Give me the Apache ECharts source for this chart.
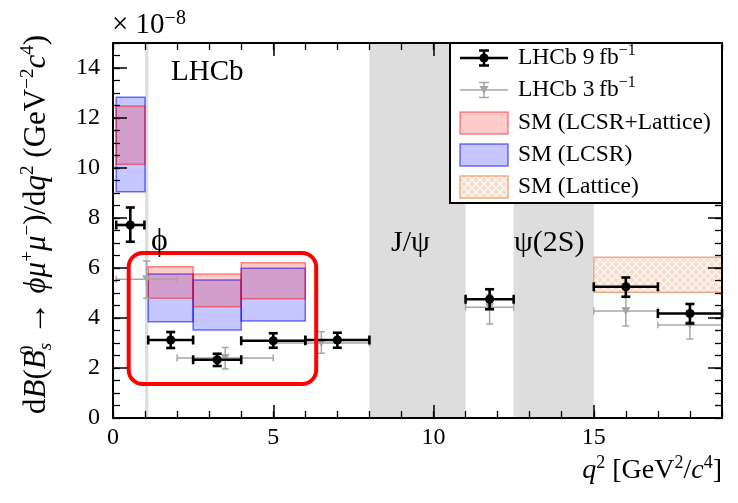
<!DOCTYPE html>
<html>
<head>
<meta charset="utf-8">
<script src="https://cdn.jsdelivr.net/npm/echarts@6/dist/echarts.min.js"></script>
<style>
  html, body { margin: 0; padding: 0; background: #ffffff; }
  #chart { width: 738px; height: 503px; }
</style>
</head>
<body>
<div id="chart"></div>
<script>
// ---------------- data (units of 1e-8 GeV^-2 c^4) ----------------
// LHCb 9 fb^-1
const run9X     = [0.54, 1.8, 3.25, 5.0, 7.0, 11.75, 16.0, 18.0];
const run9BinLo = [0.1, 1.1, 2.5, 4.0, 6.0, 11.0, 15.0, 17.0];
const run9BinHi = [0.98, 2.5, 4.0, 6.0, 8.0, 12.5, 17.0, 19.0];
const run9Y     = [7.72, 3.12, 2.33, 3.09, 3.12, 4.75, 5.25, 4.18];
const run9ErrUp = [0.70, 0.32, 0.24, 0.30, 0.29, 0.40, 0.37, 0.38];
const run9ErrDn = [0.67, 0.32, 0.25, 0.28, 0.31, 0.40, 0.40, 0.40];

// LHCb 3 fb^-1
const run3X     = [1.05, 3.5, 6.5, 11.75, 16.0, 18.0];
const run3BinLo = [0.1, 2.0, 5.0, 11.0, 15.0, 17.0];
const run3BinHi = [2.0, 5.0, 8.0, 12.5, 17.0, 19.0];
const run3Y     = [5.55, 2.40, 3.00, 4.43, 4.28, 3.72];
const run3ErrUp = [0.73, 0.42, 0.45, 0.50, 0.55, 0.55];
const run3ErrDn = [0.76, 0.44, 0.41, 0.67, 0.60, 0.56];

// SM predictions at low q^2
const smBinLo = [0.1, 1.1, 2.5, 4.0];
const smBinHi = [1.0, 2.5, 4.0, 6.0];
const lcsrLatticeLo = [10.15, 4.79, 4.45, 4.77];
const lcsrLatticeHi = [12.48, 6.05, 5.76, 6.21];
const lcsrLo = [9.05, 3.85, 3.52, 3.88];
const lcsrHi = [12.83, 5.76, 5.52, 5.99];

// SM lattice prediction at high q^2
const latticeBinLo = [15.0];
const latticeBinHi = [19.0];
const latticeLo = [5.03];
const latticeHi = [6.43];

// charmonium / phi veto regions in q^2
const vetoLo = [1.0, 8.0, 12.5];
const vetoHi = [1.1, 11.0, 15.0];

// highlighted low-q^2 region [xLo, yTop, xHi, yBottom]
const highlightBox = [[0.49, 6.6, 6.34, 1.36]];

// axis ticks
const xMajorTicks = [0, 5, 10, 15];
const yMajorTicks = [0, 2, 4, 6, 8, 10, 12, 14];

// legend entries
const legendEntries = [
  '{t|LHCb 9\u2009fb}{s|\u22121}',
  '{t|LHCb 3\u2009fb}{s|\u22121}',
  '{t|SM (LCSR+Lattice)}',
  '{t|SM (LCSR)}',
  '{t|SM (Lattice)}'
];

// ---------------- styling ----------------
const SERIF = "'Liberation Serif', 'Times New Roman', serif";
const VETO_GREY = '#dddddd';
const RED_FILL = 'rgba(255,0,0,0.20)';
const RED_LINE = 'rgba(255,0,0,0.45)';
const BLUE_FILL = 'rgba(0,0,255,0.22)';
const BLUE_LINE = 'rgba(0,0,255,0.55)';
const LAT_LINE = 'rgba(236,160,115,0.85)';

function latticePattern() {
  const c = document.createElement('canvas');
  c.width = 8; c.height = 8;
  const g = c.getContext('2d');
  g.fillStyle = '#f8ddcc';
  g.fillRect(0, 0, 8, 8);
  g.strokeStyle = 'rgba(255,255,255,0.9)';
  g.lineWidth = 1.2;
  g.beginPath();
  g.moveTo(0, 4); g.lineTo(4, 0); g.lineTo(8, 4); g.lineTo(4, 8); g.closePath();
  g.stroke();
  return c;
}
const latticeFill = { image: latticePattern(), repeat: 'repeat' };

// ---------------- derived tables ----------------
const run9Data = run9X.map((x, i) => [x, run9Y[i], run9BinLo[i], run9BinHi[i], run9Y[i] - run9ErrDn[i], run9Y[i] + run9ErrUp[i]]);
const run3Data = run3X.map((x, i) => [x, run3Y[i], run3BinLo[i], run3BinHi[i], run3Y[i] - run3ErrDn[i], run3Y[i] + run3ErrUp[i]]);
const lcsrLatticeData = smBinLo.map((lo, i) => [lo, smBinHi[i], lcsrLatticeLo[i], lcsrLatticeHi[i]]);
const lcsrData = smBinLo.map((lo, i) => [lo, smBinHi[i], lcsrLo[i], lcsrHi[i]]);
const latticeData = latticeBinLo.map((lo, i) => [lo, latticeBinHi[i], latticeLo[i], latticeHi[i]]);
const vetoData = vetoLo.map((lo, i) => [lo, vetoHi[i], 0]);

// ---------------- renderers ----------------
function errorBars(opt) {
  return function (params, api) {
    const x = api.value(0), y = api.value(1);
    const c = api.coord([x, y]);
    const l = api.coord([api.value(2), y]);
    const r = api.coord([api.value(3), y]);
    const b = api.coord([x, api.value(4)]);
    const t = api.coord([x, api.value(5)]);
    const ls = { stroke: opt.color, lineWidth: opt.width };
    const k = opt.cap;
    const line = (x1, y1, x2, y2) => ({ type: 'line', shape: { x1, y1, x2, y2 }, style: ls });
    const children = [
      line(l[0], c[1], r[0], c[1]),
      line(l[0], c[1] - k, l[0], c[1] + k),
      line(r[0], c[1] - k, r[0], c[1] + k),
      line(c[0], t[1], c[0], b[1]),
      line(c[0] - k, t[1], c[0] + k, t[1]),
      line(c[0] - k, b[1], c[0] + k, b[1])
    ];
    if (opt.marker === 'circle') {
      children.push({ type: 'circle', shape: { cx: c[0], cy: c[1], r: 4.6 }, style: { fill: opt.color } });
    } else {
      children.push({ type: 'polygon', shape: { points: [[c[0] - 4.5, c[1] - 4], [c[0] + 4.5, c[1] - 4], [c[0], c[1] + 4]] }, style: { fill: opt.color } });
    }
    return { type: 'group', children };
  };
}

function bandBoxes(fill, stroke) {
  return function (params, api) {
    const p0 = api.coord([api.value(0), api.value(3)]);
    const p1 = api.coord([api.value(1), api.value(2)]);
    return {
      type: 'rect',
      shape: { x: p0[0], y: p0[1], width: p1[0] - p0[0], height: p1[1] - p0[1] },
      style: { fill: fill, stroke: stroke, lineWidth: 1.5 }
    };
  };
}

function vetoBands(params, api) {
  const cs = params.coordSys;
  const x0 = api.coord([api.value(0), 0])[0];
  const x1 = api.coord([api.value(1), 0])[0];
  return { type: 'rect', shape: { x: x0, y: cs.y, width: x1 - x0, height: cs.height }, style: { fill: VETO_GREY } };
}

function roundedBox(params, api) {
  const p0 = api.coord([api.value(0), api.value(1)]);
  const p1 = api.coord([api.value(2), api.value(3)]);
  return {
    type: 'rect',
    shape: { x: p0[0], y: p0[1], width: p1[0] - p0[0], height: p1[1] - p0[1], r: 14 },
    style: { fill: 'none', stroke: '#ff0000', lineWidth: 4 }
  };
}

// ---------------- axes ----------------
const labelFont = { fontFamily: SERIF, fontSize: 24, color: '#000' };
const richX = {
  n: { fontFamily: SERIF, fontSize: 28, color: '#000', lineHeight: 34 },
  i: { fontFamily: SERIF, fontSize: 28, fontStyle: 'italic', color: '#000', lineHeight: 34 },
  sp: { fontFamily: SERIF, fontSize: 18, color: '#000', lineHeight: 16, verticalAlign: 'top' }
};
const richY = {
  n: { fontFamily: SERIF, fontSize: 31, color: '#000', lineHeight: 36 },
  i: { fontFamily: SERIF, fontSize: 31, fontStyle: 'italic', color: '#000', lineHeight: 36 },
  ar: { fontFamily: SERIF, fontSize: 34, color: '#000', lineHeight: 36 },
  sp: { fontFamily: SERIF, fontSize: 19, color: '#000', lineHeight: 17, verticalAlign: 'top' },
  sp0: { fontFamily: SERIF, fontSize: 19, color: '#000', lineHeight: 17, verticalAlign: 'top', width: 0 },
  sb: { fontFamily: SERIF, fontSize: 19, fontStyle: 'italic', color: '#000', lineHeight: 17, verticalAlign: 'bottom' }
};

function axis(base) {
  return Object.assign({
    type: 'value',
    z: 10,
    splitLine: { show: false },
    axisLine: { show: false, onZero: false, lineStyle: { color: '#000', width: 2 } },
    axisLabel: { show: false },
    axisTick: { show: true, inside: true, length: 7, lineStyle: { color: '#000', width: 1.3 } }
  }, base);
}

const xAxes = [
  axis({
    position: 'bottom', min: 0, max: 19, interval: 5,
    axisLine: { show: true, onZero: false, lineStyle: { color: '#000', width: 2 } },
    axisTick: { show: true, inside: true, length: 13, lineStyle: { color: '#000', width: 1.5 } },
    axisLabel: Object.assign({ show: true, showMaxLabel: false, margin: 8,
      formatter: v => (xMajorTicks.indexOf(v) >= 0 ? String(v) : '') }, labelFont),
    name: '{i|q}{sp|2}{n| [GeV}{sp|2}{n|/}{i|c}{sp|4}{n|]}',
    nameLocation: 'end',
    nameGap: 0,
    nameTextStyle: { align: 'right', verticalAlign: 'top', padding: [36, 0, 0, 0], rich: richX }
  }),
  axis({ position: 'bottom', min: 0, max: 19, interval: 1 }),
  axis({
    position: 'top', min: 0, max: 19, interval: 5,
    axisLine: { show: true, onZero: false, lineStyle: { color: '#000', width: 2 } },
    axisTick: { show: true, inside: true, length: 13, lineStyle: { color: '#000', width: 1.5 } }
  }),
  axis({ position: 'top', min: 0, max: 19, interval: 1 })
];

const yAxes = [
  axis({
    position: 'left', min: 0, max: 15, interval: 2,
    axisLine: { show: true, onZero: false, lineStyle: { color: '#000', width: 2 } },
    axisTick: { show: true, inside: true, length: 14, lineStyle: { color: '#000', width: 1.5 } },
    axisLabel: Object.assign({ show: true, showMaxLabel: false, margin: 13,
      formatter: v => (yMajorTicks.indexOf(v) >= 0 ? String(v) : '') }, labelFont),
    name: '{n|d}{i|B}{n|(}{i|B}{sp0|0}{sb|s}{n| }{ar|\u2192}{n| }{i|\u03d5\u03bc}{sp|+}{i|\u03bc}{sp|\u2212}{n|)/d}{i|q}{sp|2}{n| (GeV}{sp|\u22122}{i|c}{sp|4}{n|)}',
    nameLocation: 'middle',
    nameRotate: 90,
    nameGap: 58,
    nameTextStyle: { rich: richY, padding: [0, 0, 0, 12] }
  }),
  axis({ position: 'left', min: 0, max: 15, interval: 0.5 }),
  axis({
    position: 'right', min: 0, max: 15, interval: 2,
    axisLine: { show: true, onZero: false, lineStyle: { color: '#000', width: 2 } },
    axisTick: { show: true, inside: true, length: 14, lineStyle: { color: '#000', width: 1.5 } }
  }),
  axis({ position: 'right', min: 0, max: 15, interval: 0.5 })
];

// ---------------- legend & annotations ----------------
const legendX = 450, legendY = 43, legendW = 272, legendH = 160;
const rowY = [58, 90, 123, 155, 187];
const symL = 460, symR = 508, symC = 484, textX = 518;

function legendErrorSymbol(y, color, width, marker, z) {
  const ls = { stroke: color, lineWidth: width };
  const els = [
    { type: 'line', z, shape: { x1: symL, y1: y, x2: symR, y2: y }, style: ls },
    { type: 'line', z, shape: { x1: symC, y1: y - 7.5, x2: symC, y2: y + 7.5 }, style: ls },
    { type: 'line', z, shape: { x1: symC - 5, y1: y - 7.5, x2: symC + 5, y2: y - 7.5 }, style: ls },
    { type: 'line', z, shape: { x1: symC - 5, y1: y + 7.5, x2: symC + 5, y2: y + 7.5 }, style: ls }
  ];
  if (marker === 'circle') {
    els.push({ type: 'circle', z, shape: { cx: symC, cy: y, r: 4.6 }, style: { fill: color } });
  } else {
    els.push({ type: 'polygon', z, shape: { points: [[symC - 4.5, y - 4], [symC + 4.5, y - 4], [symC, y + 4]] }, style: { fill: color } });
  }
  return els;
}

const legendRich = {
  t: { fontFamily: SERIF, fontSize: 23.5, color: '#000', lineHeight: 30 },
  s: { fontFamily: SERIF, fontSize: 16, color: '#000', lineHeight: 14, verticalAlign: 'top' }
};

const LZ = 100;
const legendElements = [
  { type: 'rect', z: LZ, shape: { x: legendX, y: legendY, width: legendW, height: legendH }, style: { fill: '#ffffff', stroke: '#000', lineWidth: 2 } }
]
  .concat(legendErrorSymbol(rowY[0], '#000000', 2.5, 'circle', LZ + 1))
  .concat(legendErrorSymbol(rowY[1], '#a6a6a6', 1.5, 'triangle', LZ + 1))
  .concat([
    { type: 'rect', z: LZ + 1, shape: { x: symL, y: rowY[2] - 11, width: symR - symL, height: 22 }, style: { fill: RED_FILL, stroke: RED_LINE, lineWidth: 1.5 } },
    { type: 'rect', z: LZ + 1, shape: { x: symL, y: rowY[3] - 11, width: symR - symL, height: 22 }, style: { fill: BLUE_FILL, stroke: BLUE_LINE, lineWidth: 1.5 } },
    { type: 'rect', z: LZ + 1, shape: { x: symL, y: rowY[4] - 11, width: symR - symL, height: 22 }, style: { fill: latticeFill, stroke: LAT_LINE, lineWidth: 1.5 } }
  ])
  .concat(legendEntries.map((txt, i) => ({
    type: 'text', z: LZ + 1, x: textX, y: rowY[i],
    style: { text: txt, rich: legendRich, verticalAlign: 'middle', align: 'left' }
  })));

const plotText = (text, x, y, size) => ({
  type: 'text', z: 50, x, y,
  style: { text, fontFamily: SERIF, fontSize: size, fill: '#000', verticalAlign: 'middle', align: 'left' }
});

const annotations = [
  plotText('LHCb', 171, 72, 29),
  plotText('\u03d5', 151, 242, 32),
  plotText('J/\u03c8', 391, 243, 30),
  plotText('\u03c8(2S)', 514, 243, 30),
  {
    type: 'text', z: 50, x: 112, y: 25,
    style: {
      text: '{a|\u00d7 10}{b|\u22128}',
      verticalAlign: 'middle', align: 'left',
      rich: {
        a: { fontFamily: SERIF, fontSize: 29, color: '#000', lineHeight: 32 },
        b: { fontFamily: SERIF, fontSize: 20, color: '#000', lineHeight: 16, verticalAlign: 'top' }
      }
    }
  }
];

// ---------------- chart ----------------
const chart = echarts.init(document.getElementById('chart'), null, { renderer: 'canvas' });

chart.setOption({
  animation: false,
  backgroundColor: '#ffffff',
  grid: { left: 113, right: 16, top: 43, bottom: 85, containLabel: false },
  xAxis: xAxes,
  yAxis: yAxes,
  series: [
    { type: 'custom', name: 'veto', z: 1, clip: true, data: vetoData, encode: { x: [0, 1], y: 2 }, renderItem: vetoBands, silent: true },
    { type: 'custom', name: 'SM (Lattice)', z: 2, clip: true, data: latticeData, encode: { x: [0, 1], y: [2, 3] }, renderItem: bandBoxes(latticeFill, LAT_LINE), silent: true },
    { type: 'custom', name: 'SM (LCSR)', z: 3, clip: true, data: lcsrData, encode: { x: [0, 1], y: [2, 3] }, renderItem: bandBoxes(BLUE_FILL, BLUE_LINE), silent: true },
    { type: 'custom', name: 'SM (LCSR+Lattice)', z: 3, clip: true, data: lcsrLatticeData, encode: { x: [0, 1], y: [2, 3] }, renderItem: bandBoxes(RED_FILL, RED_LINE), silent: true },
    { type: 'custom', name: 'LHCb 3 fb-1', z: 4, clip: true, data: run3Data, encode: { x: [0, 2, 3], y: [1, 4, 5] },
      renderItem: errorBars({ color: '#a6a6a6', width: 1.5, cap: 3.5, marker: 'triangle' }), silent: true },
    { type: 'custom', name: 'LHCb 9 fb-1', z: 5, clip: false, data: run9Data, encode: { x: [0, 2, 3], y: [1, 4, 5] },
      renderItem: errorBars({ color: '#000000', width: 2.6, cap: 4.5, marker: 'circle' }), silent: true },
    { type: 'custom', name: 'highlight', z: 6, clip: false, data: highlightBox, encode: { x: [0, 2], y: [1, 3] }, renderItem: roundedBox, silent: true }
  ],
  graphic: annotations.concat(legendElements)
});
</script>
</body>
</html>
